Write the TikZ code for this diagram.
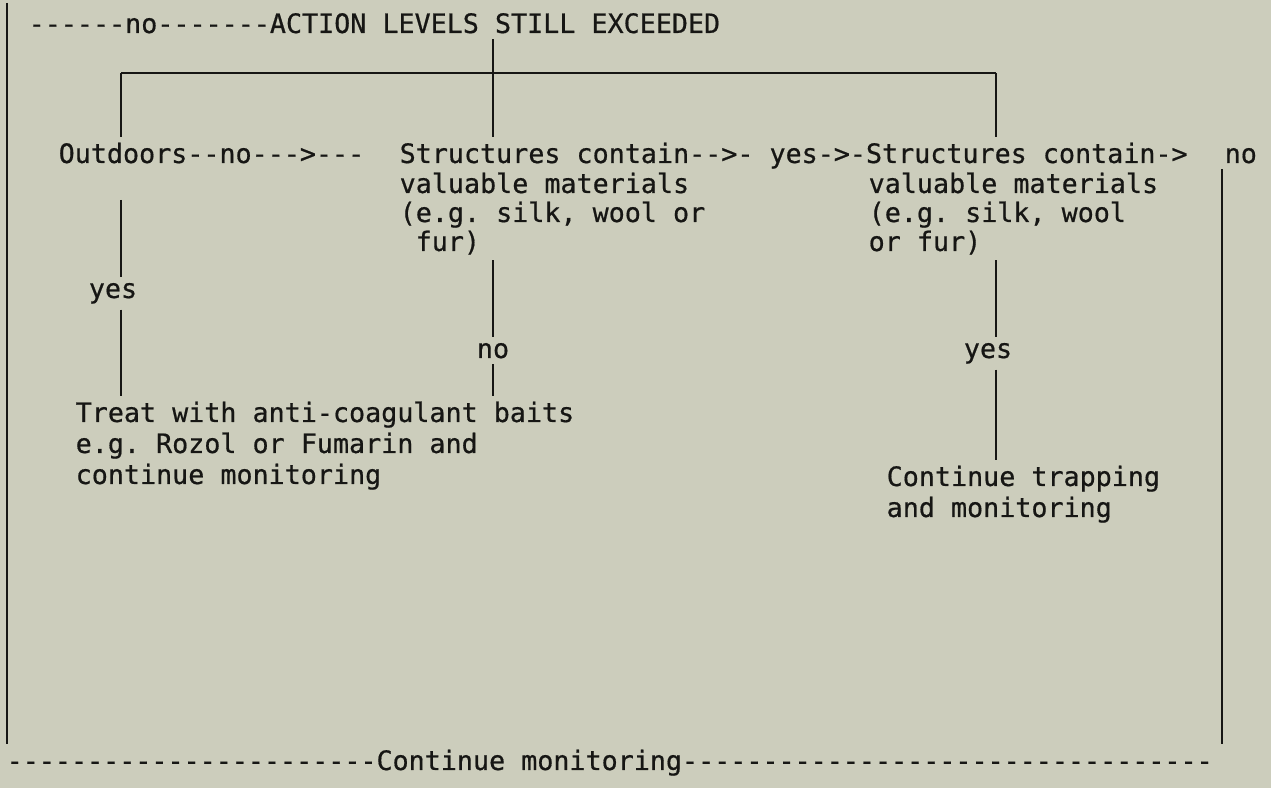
\documentclass[tikz,border=0pt]{standalone}
\usepackage{fontspec}
\setmonofont{DejaVu Sans Mono}[FakeBold=0.6]
\definecolor{paper}{RGB}{204,205,188}
\definecolor{ink}{RGB}{22,22,20}

\begin{document}
\begin{tikzpicture}[x=0.1mm,y=-0.1mm,
  txt/.style={inner xsep=0pt,inner ysep=1.5pt,anchor=base west,text=ink,
    font=\ttfamily\fontsize{7.6pt}{9pt}\selectfont},
  lbl/.style={txt,anchor=base},
  wire/.style={draw=ink,line width=0.8pt}]
% Sheet
\fill[paper] (0,0) rectangle (1271,788);
\useasboundingbox (0,0) rectangle (1271,788);
% Heading
\node[txt] (head) at (28,33) {------no-------ACTION LEVELS STILL EXCEEDED};
% First row of questions
\node[txt] (outd) at (58,163) {Outdoors--no--->---};
\node[txt] (struct) at (399,163) {Structures contain-->- yes->-Structures contain->};
\node[txt] (noR) at (1224,163) {no};
\node[txt] (valA) at (399,193) {valuable materials};
\node[txt] (egA) at (399,222) {(e.g. silk, wool or};
\node[txt] (furA) at (415,251) {fur)};
\node[txt] (valB) at (868,193) {valuable materials};
\node[txt] (egB) at (868,222) {(e.g. silk, wool};
\node[txt] (furB) at (868,251) {or fur)};
% Branch labels
\node[lbl] (yesL) at (113,298) {yes};
\node[lbl] (noM) at (493,358) {no};
\node[lbl] (yesR) at (988,358) {yes};
% Outcomes
\node[txt] (bait1) at (75,422) {Treat with anti-coagulant baits};
\node[txt] (bait2) at (75,453) {e.g. Rozol or Fumarin and};
\node[txt] (bait3) at (75,484) {continue monitoring};
\node[txt] (trap1) at (886,486) {Continue trapping};
\node[txt] (trap2) at (886,517) {and monitoring};
% Loop back
\node[txt] (loop) at (6,770) {-----------------------Continue monitoring---------------------------------};
% Junctions
\coordinate (hubL) at (121,73);
\coordinate (hubM) at (493,73);
\coordinate (hubR) at (996,73);
\coordinate (edgeL) at (7,3);
\coordinate (edgeR) at (1222,752);
\coordinate (yesTop) at (121,200);
% Split bar
\draw[wire] (hubL) -- (hubR);
\draw[wire] (hubL) -- (hubL |- outd.north);
\draw[wire] (hubM |- head.south) -- (hubM |- struct.north);
\draw[wire] (hubR) -- (hubR |- struct.north);
% Outer loop
\draw[wire] (edgeL) -- (edgeL |- loop.north);
\draw[wire] (edgeR |- noR.south) -- (edgeR |- loop.north);
% Branches down
\draw[wire] (yesTop) -- (yesTop |- yesL.north);
\draw[wire] (yesTop |- yesL.south) -- (yesTop |- bait1.north);
\draw[wire] (hubM |- furA.south) -- (noM.north);
\draw[wire] (noM.south) -- (noM |- bait1.north);
\draw[wire] (hubR |- furB.south) -- (hubR |- yesR.north);
\draw[wire] (hubR |- yesR.south) -- (hubR |- trap1.north);
\end{tikzpicture}
\end{document}
